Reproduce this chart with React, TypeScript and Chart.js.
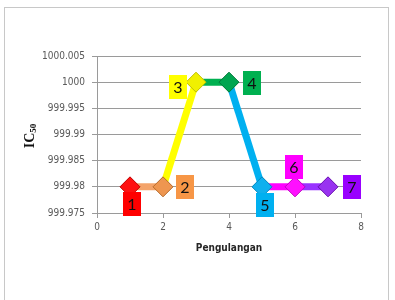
import { useEffect, useRef } from 'react';
import { Chart, registerables } from 'chart.js';

Chart.register(...registerables);

// ---- data ----
const repetitions = [1, 2, 3, 4, 5, 6, 7];
const ic50Values = [999.98, 999.98, 1000, 1000, 999.98, 999.98, 999.98];
const pointLabels = ['1', '2', '3', '4', '5', '6', '7'];
const xAxisTitle = 'Pengulangan';
const yAxisTitleMain = 'IC';
const yAxisTitleSub = '50';
const xMin = 0;
const xMax = 8;
const xStep = 2;
const yMin = 999.975;
const yMax = 1000.005;
const yStep = 0.005;

// ---- styles ----
const pointColors = ['#FF1010', '#EE9650', '#F0F000', '#00A550', '#10B0EE', '#FF10FF', '#9933F0'];
const pointBorders = ['#C00000', '#B86A2A', '#C0C000', '#007A3A', '#0088C0', '#C000C0', '#6A10B0'];
const segmentColors = ['#F4A46A', '#FFFF00', '#00B050', '#00B0F0', '#FF00FF', '#9933FF'];
const boxColors = ['#FF0000', '#F79646', '#FFFF00', '#00B050', '#00B0F0', '#FF00FF', '#9900FF'];
const labelOffsets = [[2, 17], [22, 0], [-18, 5], [23, 1], [3, 18], [-1, -20], [24, 0]];
const gridColor = '#9a9a9a';
const tickColor = '#595959';
const tickFont = { family: '"DejaVu Sans Condensed", "DejaVu Sans", sans-serif', size: 10 };

const decorPlugin = {
  id: 'decor',
  beforeDraw(chart: any) {
    const ctx = chart.ctx;
    ctx.save();
    ctx.fillStyle = '#ffffff';
    ctx.fillRect(0, 0, chart.width, chart.height);
    ctx.strokeStyle = '#c8c8c8';
    ctx.lineWidth = 1;
    ctx.strokeRect(4.5, 7.5, 384, 320);
    ctx.restore();
  },
  afterDatasetsDraw(chart: any) {
    const ctx = chart.ctx;
    const meta = chart.getDatasetMeta(0);
    ctx.save();
    meta.data.forEach((pt: any, i: number) => {
      const [dx, dy] = labelOffsets[i];
      const cx = pt.x + dx;
      const cy = pt.y + dy;
      const w = 18;
      const h = 24;
      ctx.fillStyle = boxColors[i];
      ctx.fillRect(Math.round(cx - w / 2), Math.round(cy - h / 2), w, h);
      ctx.fillStyle = '#111111';
      ctx.font = '16px Lato, "Open Sans", sans-serif';
      ctx.textAlign = 'center';
      ctx.textBaseline = 'middle';
      ctx.fillText(pointLabels[i], cx, cy + 1);
    });
    ctx.restore();
  },
  afterDraw(chart: any) {
    const ctx = chart.ctx;
    ctx.save();
    // x axis title
    ctx.fillStyle = '#262626';
    ctx.font = 'bold 10px "DejaVu Sans Condensed", "DejaVu Sans", sans-serif';
    ctx.textAlign = 'center';
    ctx.textBaseline = 'middle';
    const area = chart.chartArea;
    ctx.fillText(xAxisTitle, (area.left + area.right) / 2, 248);
    // y axis title with subscript
    ctx.translate(34, 136);
    ctx.rotate(-Math.PI / 2);
    ctx.textAlign = 'left';
    ctx.textBaseline = 'alphabetic';
    ctx.fillStyle = '#111111';
    const mainFont = 'bold 14px "Liberation Serif", serif';
    const subFont = 'bold 9px "Liberation Serif", serif';
    ctx.font = mainFont;
    const w1 = ctx.measureText(yAxisTitleMain).width;
    ctx.font = subFont;
    const w2 = ctx.measureText(yAxisTitleSub).width;
    const start = -(w1 + w2) / 2;
    ctx.font = mainFont;
    ctx.fillText(yAxisTitleMain, start, 0);
    ctx.font = subFont;
    ctx.fillText(yAxisTitleSub, start + w1, 2);
    ctx.restore();
  },
};

export default function App() {
  const canvasRef = useRef<HTMLCanvasElement | null>(null);

  useEffect(() => {
    if (!canvasRef.current) return;
    const chart = new Chart(canvasRef.current, {
      type: 'scatter',
      data: {
        datasets: [
          {
            data: repetitions.map((x, i) => ({ x, y: ic50Values[i] })),
            showLine: true,
            borderWidth: 7,
            borderColor: segmentColors[0],
            segment: {
              borderColor: (c: any) => segmentColors[c.p0DataIndex],
            },
            pointStyle: 'rectRot',
            pointRadius: 10,
            pointBackgroundColor: pointColors,
            pointBorderColor: pointBorders,
            pointBorderWidth: 1,
            tension: 0,
            clip: false,
          } as any,
        ],
      },
      options: {
        responsive: false,
        animation: false,
        layout: { padding: { left: 0, top: 56, right: 34, bottom: 0 } },
        plugins: {
          legend: { display: false },
          tooltip: { enabled: false },
        },
        scales: {
          x: {
            type: 'linear',
            min: xMin,
            max: xMax,
            ticks: { stepSize: xStep, color: tickColor, font: tickFont, padding: 3 },
            grid: { drawOnChartArea: false, tickLength: 5, color: gridColor },
            border: { color: gridColor },
            afterFit: (s: any) => {
              s.height = 87;
            },
          },
          y: {
            type: 'linear',
            min: yMin,
            max: yMax,
            ticks: {
              stepSize: yStep,
              color: tickColor,
              font: tickFont,
              padding: 7,
              callback: (v: any) => String(Number(Number(v).toFixed(3))),
            },
            grid: { color: gridColor, tickLength: 5 },
            border: { color: gridColor },
            afterFit: (s: any) => {
              s.width = 97;
            },
          },
        },
      } as any,
      plugins: [decorPlugin],
    });
    return () => chart.destroy();
  }, []);

  return (
    <div style={{ position: 'fixed', left: 0, top: 0, width: 395, height: 300 }}>
      <canvas ref={canvasRef} width={395} height={300} style={{ display: 'block' }} />
    </div>
  );
}
